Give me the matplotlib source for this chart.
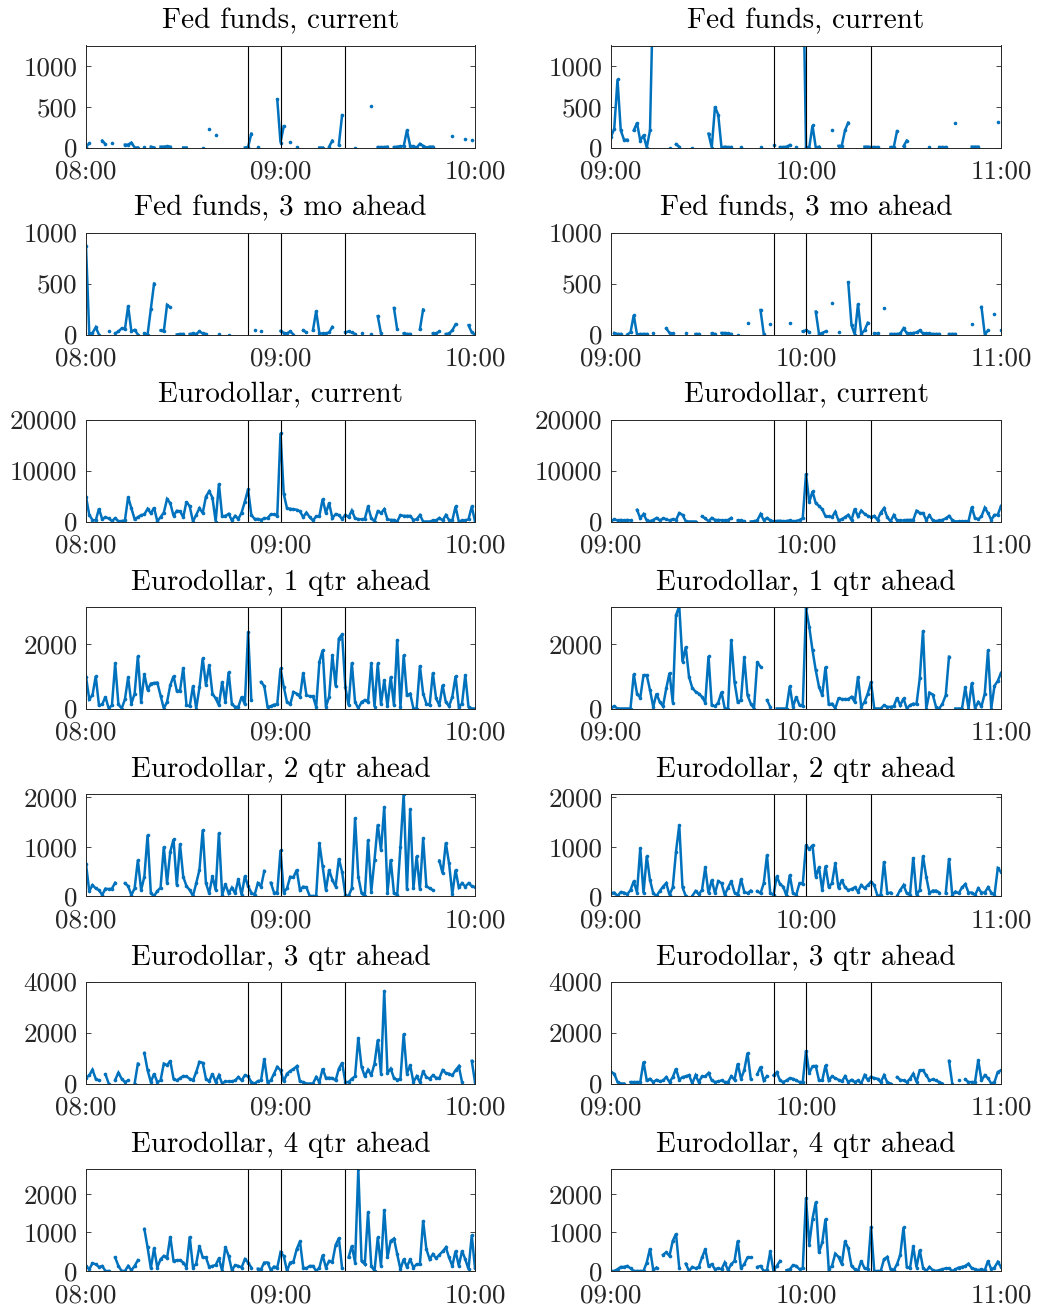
import numpy as np
import matplotlib
matplotlib.use('Agg')
import matplotlib.pyplot as plt

nan = np.nan

# --- DATA: volume per minute, two hours per window ---
minutes = np.arange(121)

titles = ['Fed funds, current', 'Fed funds, 3 mo ahead', 'Eurodollar, current',
          'Eurodollar, 1 qtr ahead', 'Eurodollar, 2 qtr ahead',
          'Eurodollar, 3 qtr ahead', 'Eurodollar, 4 qtr ahead']

tick_labels_left = ['08:00', '09:00', '10:00']
tick_labels_right = ['09:00', '10:00', '11:00']
event_minutes = [50, 60, 80]

ylims = [1250, 1000, 20000, 3150, 2070, 4000, 2640]
yticks = [[0, 500, 1000], [0, 500, 1000], [0, 10000, 20000], [0, 2000],
          [0, 1000, 2000], [0, 2000, 4000], [0, 1000, 2000]]

ff_cur_left = [
    10, 50, nan, nan, nan, 85, 40, nan, 50, nan, nan, nan, 35, 35, 60, 0, 0, nan, 5, nan,
    10, 0, nan, 10, 10, 15, 10, nan, nan, nan, 0, 0, nan, nan, nan, nan, 0, nan, 230, nan,
    155, nan, nan, nan, nan, nan, nan, nan, nan, 0, 5, 170, nan, 10, nan, nan, nan, nan, nan, 590,
    60, 260, nan, 70, nan, 10, nan, nan, nan, nan, nan, nan, 0, 0, nan, 10, 85, nan, 35, 395,
    nan, nan, nan, 0, nan, nan, nan, nan, 510, nan, 5, 5, 5, 10, nan, 5, 10, 15, 15, 210,
    20, 15, 0, 45, 20, 0, 10, 10, nan, nan, nan, nan, nan, 140, nan, nan, nan, 100, nan, 90,
    nan]
ff_cur_right = [
    130, 230, 835, 210, 95, 95, nan, 210, 300, 85, 150, 0, 210, 2000, nan, nan, nan, nan, 0, nan,
    40, 10, nan, nan, nan, 0, nan, nan, nan, nan, 170, 0, 500, 400, 0, 10, 5, 5, nan, nan,
    10, nan, nan, nan, nan, nan, 5, nan, nan, nan, 30, nan, 5, 5, 10, 30, nan, 10, nan, 2500,
    5, 0, 270, 0, 10, nan, nan, nan, 210, nan, 20, 20, 210, 305, nan, nan, nan, nan, 10, 10,
    5, 5, 5, nan, nan, nan, 5, 5, 200, nan, 15, 85, nan, nan, nan, nan, nan, nan, 5, nan,
    nan, 5, 5, 5, nan, nan, 295, nan, nan, nan, nan, 10, 10, 10, nan, nan, nan, nan, nan, 310,
    nan]

ff_3mo_left = [
    870, 10, 15, 70, 0, nan, nan, 30, nan, 10, 30, 60, 50, 280, 30, 45, 0, nan, 10, 0,
    250, 500, nan, 40, 30, 290, 265, nan, 0, 5, 5, nan, 5, 10, 5, 30, 10, 5, nan, nan,
    nan, 5, nan, nan, 0, nan, nan, nan, nan, nan, nan, nan, 40, nan, 35, nan, nan, nan, nan, nan,
    35, 15, 10, 30, 0, nan, nan, 40, 20, nan, 40, 230, 10, 10, 10, 20, 75, nan, nan, nan,
    20, 30, 20, 5, nan, 10, nan, nan, 5, nan, 180, 10, nan, nan, nan, 260, 50, nan, 10, 5,
    5, nan, nan, 50, 245, nan, nan, 10, 10, 30, nan, 5, 10, 40, 100, nan, nan, nan, 90, 20,
    0]
ff_3mo_right = [
    nan, 15, 5, 5, nan, 0, 20, 190, 0, 5, 5, 5, nan, 10, nan, nan, nan, 60, 15, 10,
    nan, nan, nan, 10, nan, nan, 5, 5, nan, nan, nan, 10, 5, nan, 15, 15, 10, 5, nan, 0,
    nan, nan, 110, nan, nan, nan, 240, 5, nan, 100, nan, nan, nan, nan, nan, 110, nan, nan, nan, 30,
    40, 25, nan, 225, 5, 15, 30, nan, 305, nan, 20, nan, nan, 510, 90, 0, 300, 5, 40, 115,
    nan, 10, 10, nan, 255, nan, 5, 5, 5, 10, 60, 15, 10, 15, 20, 40, 10, 10, 10, 5,
    5, 5, nan, nan, 5, 5, 5, nan, nan, nan, nan, 100, nan, nan, 270, 0, 40, nan, 200, nan,
    40]

ed_cur_left = [
    4900, 1300, 300, 200, 2500, 450, 850, 600, 100, 650, 50, 100, 200, 4800, 2600, 450, 850, 1250, 1400, 2500,
    1600, 2700, 50, 850, 1750, 4400, 3600, 1100, 2100, 2000, 850, 3900, 2950, 0, 1300, 2600, 1650, 4900, 5900, 4700,
    0, 7400, 1000, 1100, 1500, 200, 1100, 500, 1750, 3900, 6300, 1300, 500, 500, 300, 650, 650, 1400, 1400, 1100,
    17300, 5400, 2600, 2500, 2400, 2300, 2000, 850, 1750, 850, 200, 1000, 1100, 4400, 1650, 3600, 650, 1450, 1250, 500,
    1300, 850, 2150, 600, 450, 450, 500, 2950, 650, 0, 2000, 1650, 2400, 450, 300, 300, 0, 1250, 1100, 1100,
    1100, 300, 450, 1250, 0, 0, 0, 200, 200, 700, 200, 1250, 300, 200, 2950, 0, 200, 200, 450, 2950,
    0]
ed_cur_right = [
    0, 450, 200, 300, 200, 300, 200, nan, 2300, 650, 1450, 200, 50, 300, 700, 200, 600, 450, 200, 450,
    300, 1650, 1300, 50, 0, 0, 0, nan, 1000, 600, 50, 700, 300, 300, 250, 200, 300, 700, nan, 200,
    200, 50, nan, 0, 50, 200, 1450, 300, 700, 200, 50, 100, 150, 50, 100, 200, 50, 100, 300, 650,
    9350, 3800, 5900, 3600, 3050, 2400, 1000, 1000, 850, 1900, 200, 450, 850, 1300, 300, 2500, 1000, 2150, 1500, 1100,
    850, 1100, 300, 1750, 2600, 850, 0, 1250, 200, 200, 200, 300, 300, 300, 2100, 1650, 1650, 300, 1200, 200,
    50, 200, 300, 600, 1100, 300, 0, 50, 50, 50, 50, 2800, 650, 450, 1000, 2700, 1650, 300, 1300, 1300,
    3050]

ed_1q_left = [
    980, 290, 410, 1000, 100, 130, 360, 0, 100, 1390, 130, 0, 280, 960, 150, 460, 1620, 200, 1060, 570,
    770, 790, 800, 400, 0, 200, 720, 1000, 550, 550, 1260, 100, 70, 690, 0, 650, 1550, 720, 1340, 460,
    310, 100, 820, 200, 1130, 130, 50, 50, 360, 130, 2350, 260, nan, nan, 820, 690, 50, 70, 120, 130,
    1240, 670, 200, 130, 510, 460, 360, 1100, 410, 380, 380, 50, 1440, 1800, 50, 360, 1650, 690, 2160, 2290,
    670, 100, 1410, 200, 0, 200, 260, 200, 1390, 50, 1390, 130, 880, 70, 980, 100, 2130, 50, 1650, 410,
    460, 0, 0, 1320, 460, 150, 100, 1100, 310, 100, 720, 200, 70, 360, 1000, 50, 150, 1030, 50, 0,
    0]
ed_1q_right = [
    30, 70, 0, 0, 0, 0, 0, 1060, 460, 330, 1030, 1030, 570, 50, 460, 200, 70, 620, 1100, 180,
    2880, 3160, 1440, 1900, 980, 640, 520, 460, 360, 180, 1620, 100, 70, 180, 510, 0, 0, 2130, 820, 200,
    260, 1580, 410, 150, 0, 1440, 1290, nan, 260, 50, nan, 0, 0, 0, 0, 690, 50, 360, 100, 70,
    3090, 2520, 1800, 1180, 670, 410, 1290, 130, 150, 0, 310, 290, 290, 290, 360, 200, 980, 50, 200, 460,
    820, 0, 0, 0, 100, 50, 50, 70, 330, 100, 310, 0, 100, 150, 130, 930, 2400, 0, 490, 430,
    50, 0, 150, 410, 1600, nan, 0, 0, 0, 650, 0, 790, 0, 200, 70, 460, 1800, 0, 700, 850,
    1100]

ed_2q_left = [
    650, 100, 220, 155, 120, 20, 150, 140, 150, 270, nan, nan, 260, 200, 20, 155, 730, 120, 390, 1240,
    55, 0, 100, 170, 1000, 260, 900, 1150, 220, 1050, 390, 200, 120, 0, 260, 530, 1340, 260, 55, 400,
    120, 1280, 20, 240, 55, 170, 55, 345, 20, 400, 200, 70, 20, 260, 190, 510, nan, 270, 70, 70,
    930, 70, 155, 390, 380, 530, 120, 190, 175, 0, 0, 0, 1070, 600, 120, 530, 325, 190, 760, 490,
    20, 0, 155, 1575, 390, 55, 0, 1135, 90, 730, 1450, 930, 1810, 70, 740, 55, 20, 1000, 2080, 135,
    1760, 155, 810, 135, 1170, 200, 155, 120, nan, 720, 460, 1080, 660, 35, 530, 175, 260, 190, 260, 200,
    180]
ed_2q_right = [
    60, 70, 0, 80, 70, 35, 120, 300, 70, 970, 55, 810, 325, 55, 0, 100, 190, 260, 20, 175,
    900, 1440, 175, 0, nan, 0, 100, 35, 120, 580, 55, 325, 55, 300, 260, 20, 170, 300, 70, 20,
    340, 90, 55, 110, nan, 100, 55, 260, 830, 55, 20, 400, 240, 190, 0, 425, 55, 20, 260, 240,
    1030, 950, 1030, 390, 580, 120, 610, 175, 260, 660, 155, 325, 175, 120, 140, 175, 90, 220, 155, 220,
    290, 220, 0, 20, 700, 55, 70, nan, 0, 120, 220, 55, 20, 780, 20, 120, 810, 390, 55, 110,
    110, 70, nan, 55, 760, 20, 90, 55, 175, 240, 70, 70, 20, 155, 70, 70, 175, 70, 20, 560,
    490]

ed_3q_left = [
    225, 320, 540, 185, 120, nan, 360, 0, nan, 145, 425, 185, 55, 120, nan, 0, 780, nan, 1200, 520,
    55, 385, 55, 120, 780, 715, 890, 185, 120, 210, 290, 280, 185, 120, 450, 850, 810, 185, 80, 385,
    55, 320, 0, 80, 80, 80, 120, 250, 120, 320, 280, 55, 0, 95, 120, 970, 55, 120, 385, 650,
    520, 80, 385, 490, 570, 675, 80, 55, 0, 0, 0, 250, 55, 580, 225, 225, 210, 120, 580, 810,
    55, 55, 185, 280, 1800, 650, 280, 540, 320, 780, 1710, 385, 3630, 410, 580, 210, 145, 185, 1950, 385,
    715, 55, 280, 55, 475, 250, 185, 320, 225, 210, 520, 410, 385, 320, 520, 675, 55, nan, nan, 890,
    55]
ed_3q_right = [
    440, 385, 55, 0, 0, nan, 55, 55, 55, 55, 850, 120, 185, 55, 145, 80, 120, 250, 55, 250,
    580, 145, 250, 280, 330, 0, 320, 55, 280, 280, 410, 120, 55, 80, 120, 55, 55, 280, 145, 780,
    185, 520, 1200, 185, nan, 360, 650, 120, 290, nan, 320, 440, 120, 55, 120, 210, 185, 120, 55, 55,
    1285, 410, 675, 690, 120, 120, 715, 120, 280, 210, 145, 80, 280, 55, 145, 55, 120, 0, 320, 145,
    265, 210, 185, 55, 320, 55, 0, nan, 250, 145, 120, 55, 185, 385, 55, 520, 520, 320, 120, 160,
    120, 55, 0, nan, 890, 0, nan, 120, nan, 160, 55, 55, 55, 915, 120, 320, 210, 0, 55, 450,
    520]

ed_4q_left = [
    130, 45, 200, 175, 105, 130, 0, 0, nan, 350, 130, 0, 0, 130, 20, 130, 280, nan, 1090, 610,
    70, 590, 90, 305, 390, 330, 890, 260, 280, 280, 220, 90, 890, 90, 190, 645, 350, 350, 105, 130,
    155, 330, 0, 625, 390, 20, 150, 130, 90, 305, 220, 90, nan, 60, 45, 220, 220, 20, 115, 90,
    480, 390, 0, 220, 245, 565, 765, 90, 70, 130, 130, 0, 90, 410, 90, 260, 235, 670, 850, 70,
    nan, 350, 650, 220, 2640, 260, 175, 1520, 130, 0, 870, 130, 1590, 350, 780, 840, 435, 45, 305, 105,
    305, 90, 175, 175, 1300, 565, 305, 435, 330, 420, 505, 610, 350, 130, 520, 130, 520, 305, 45, 930,
    70]
ed_4q_right = [
    0, 0, 45, 105, 105, 130, 70, 0, 0, 0, 0, 220, 580, 20, 90, nan, 420, 480, 390, 780,
    960, 90, nan, 190, 0, 105, 70, 105, 350, 565, 130, 175, 45, 70, 45, 220, 20, 175, 260, 780,
    70, 175, 350, 350, nan, 105, 130, 0, 20, 505, 0, 130, 260, nan, 20, 45, 150, 130, 45, 70,
    1890, 680, 1350, 1780, 480, 740, 1350, 45, 130, 450, 365, 175, 765, 590, 130, 45, 0, 260, 70, 45,
    1150, 0, 0, 0, 305, 365, 45, 20, 175, 420, 1130, 105, 70, 635, 90, 540, 90, 0, 105, 20,
    0, 20, 45, 70, 70, 0, 45, 90, 105, 130, 190, 70, 45, 20, 45, 20, 260, 45, 90, 235,
    105]

left_series = [ff_cur_left, ff_3mo_left, ed_cur_left, ed_1q_left, ed_2q_left, ed_3q_left, ed_4q_left]
right_series = [ff_cur_right, ff_3mo_right, ed_cur_right, ed_1q_right, ed_2q_right, ed_3q_right, ed_4q_right]

# --- LAYOUT (pixels) ---
W, H = 1037, 1311
col_x = [(86, 389), (611, 390)]
row_top = [45.5, 232.5, 419.5, 606.5, 794, 981.5, 1169]
ax_h = 102

plt.rcParams['font.family'] = ['cmr10', 'DejaVu Serif']
plt.rcParams['axes.formatter.use_mathtext'] = True
plt.rcParams['mathtext.fontset'] = 'cm'

LINE_COLOR = '#0072BD'
AX_COLOR = '#262626'
TICK_FS = 19.5
TITLE_FS = 21

fig = plt.figure(figsize=(W / 100, H / 100), dpi=100)

for r in range(7):
    for c, (x0, w) in enumerate(col_x):
        top = row_top[r]
        ax = fig.add_axes([x0 / W, 1 - (top + ax_h) / H, w / W, ax_h / H])
        data = left_series[r] if c == 0 else right_series[r]
        ax.plot(minutes, data, color=LINE_COLOR, lw=1.8, marker='o', ms=2.6,
                mew=0, solid_joinstyle='miter')
        for m in event_minutes:
            ax.axvline(m, color='black', lw=0.8)
        ax.set_xlim(0, 120)
        ax.set_ylim(0, ylims[r])
        ax.set_xticks([0, 60, 120])
        ax.set_xticklabels(tick_labels_left if c == 0 else tick_labels_right)
        ax.set_yticks(yticks[r])
        ax.set_yticklabels([str(v) for v in yticks[r]])
        ax.tick_params(direction='in', length=3.5, width=0.6, top=True, right=True,
                       labelsize=TICK_FS, colors=AX_COLOR)
        ax.tick_params(axis='x', pad=9)
        ax.tick_params(axis='y', pad=6)
        for s in ax.spines.values():
            s.set_linewidth(0.7)
            s.set_color(AX_COLOR)
        ax.set_title(titles[r], fontsize=TITLE_FS, pad=12)

fig.savefig('out.png', dpi=100)
